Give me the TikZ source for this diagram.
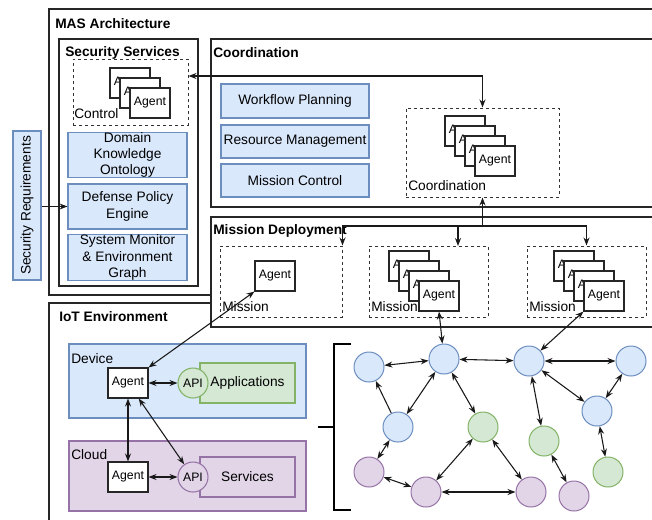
\documentclass[tikz,border=0pt]{standalone}
\usepackage{fontspec}
\setmainfont{Liberation Sans}
\usetikzlibrary{arrows.meta,calc}
\definecolor{bfill}{HTML}{DAE8FC}
\definecolor{bline}{HTML}{6C8EBF}
\definecolor{gfill}{HTML}{D5E8D4}
\definecolor{gline}{HTML}{82B366}
\definecolor{pfill}{HTML}{E1D5E7}
\definecolor{pline}{HTML}{9673A6}
\begin{document}
\begin{tikzpicture}[x=0.75pt,y=-0.75pt,
  font=\fontsize{10.3}{12.3}\selectfont,
  >={Stealth[length=6pt,width=4.5pt]},
  container/.style={draw=black!85, line width=0.9pt, fill=white},
  title/.style={font=\fontsize{10.3}{12.3}\selectfont\bfseries, anchor=west, inner sep=0pt},
  boxlabel/.style={anchor=west, inner sep=0pt},
  bluebox/.style={draw=bline, fill=bfill, line width=0.8pt, align=center, inner sep=0pt},
  greenbox/.style={draw=gline, fill=gfill, line width=0.8pt, align=center, inner sep=0pt},
  purplebox/.style={draw=pline, fill=pfill, line width=0.8pt, align=center, inner sep=0pt},
  dashbox/.style={draw=black!80, dash pattern=on 2.25pt off 2.25pt, line width=0.75pt, inner sep=0pt},
  agentbox/.style={draw=black!85, fill=white, line width=0.8pt, minimum width=30pt,
    minimum height=22.5pt, inner sep=0pt, font=\fontsize{9.2}{11}\selectfont},
  apicircle/.style={circle, minimum size=22.5pt, inner sep=0pt, line width=0.8pt,
    font=\fontsize{9.2}{11}\selectfont},
  gnode/.style={circle, minimum size=22.5pt, inner sep=0pt, line width=0.75pt},
  bnode/.style={gnode, draw=bline, fill=bfill},
  grnode/.style={gnode, draw=gline, fill=gfill},
  pnode/.style={gnode, draw=pline, fill=pfill},
  link/.style={line width=0.8pt, draw=black!90},
]
\useasboundingbox (0,0) rectangle (652,519);
\clip (0,0) rectangle (652,519);

% ---------- containers ----------
\draw[container] (49,9) rectangle (670,295);
\node[title] (mastitle) at (55,24) {MAS Architecture};
\draw[container] (49,303) rectangle (670,540);
\node[title] (iottitle) at (59,317) {IoT Environment};
\draw[container] (211,217) rectangle (670,327);
\node[title] (mdtitle) at (213,231) {Mission Deployment};
\draw[container] (211,39) rectangle (670,207);
\node[title] (cotitle) at (213,53) {Coordination};
\draw[container] (59,39) rectangle (198,286);
\node[title] (sstitle) at (65,53) {Security Services};

% ---------- security requirements ----------
\node[bluebox, rotate=90, minimum width=111.75pt, minimum height=21pt] (secreq)
  at (27,205.5) {Security Requirements};

% ---------- security services ----------
\node[dashbox, minimum width=86.25pt, minimum height=49.5pt] (ctrl) at (130.5,92) {};
\node[boxlabel] (ctrllabel) at (74,114) {Control};
\foreach \i in {0,1,2}
  \node[agentbox] (ctl\i) at (130+10*\i,83+10*\i) {Agent};

\node[bluebox, minimum width=89.25pt, minimum height=33pt] (dko) at (127.5,155)
  {Domain\\Knowledge\\Ontology};
\node[bluebox, minimum width=89.25pt, minimum height=33.75pt] (dpe) at (127.5,206.5)
  {Defense Policy\\Engine};
\node[bluebox, minimum width=89.25pt, minimum height=32.25pt] (smeg) at (127.5,257.5)
  {System Monitor\\\& Environment\\Graph};

% ---------- coordination ----------
\node[bluebox, minimum width=111pt, minimum height=25.5pt] (wfp) at (295,101) {Workflow Planning};
\node[bluebox, minimum width=111pt, minimum height=24.75pt] (rm) at (295,141.5) {Resource Management};
\node[bluebox, minimum width=111pt, minimum height=24.75pt] (mc) at (295,180.5) {Mission Control};

\node[dashbox, minimum width=114.75pt, minimum height=66.75pt] (coord) at (482.5,152.5) {};
\node[boxlabel] (coordlabel) at (408,186) {Coordination};
\foreach \i in {0,1,2,3}
  \node[agentbox] (co\i) at (465+10*\i,131+10*\i) {Agent};

% ---------- mission deployment ----------
\node[dashbox, minimum width=91.5pt, minimum height=53.25pt] (m1) at (281,281.5) {};
\node[boxlabel] (m1label) at (222,307) {Mission};
\node[agentbox] (ma) at (275,276) {Agent};

\node[dashbox, minimum width=89.25pt, minimum height=53.25pt] (m2) at (428.5,281.5) {};
\node[boxlabel] (m2label) at (371,307) {Mission};
\foreach \i in {0,1,2,3}
  \node[agentbox] (mb\i) at (409+10*\i,266+10*\i) {Agent};

\node[dashbox, minimum width=89.25pt, minimum height=53.25pt] (m3) at (586.5,281.5) {};
\node[boxlabel] (m3label) at (529,307) {Mission};
\foreach \i in {0,1,2,3}
  \node[agentbox] (mc\i) at (574+10*\i,266+10*\i) {Agent};

% ---------- IoT: device and cloud ----------
\draw[draw=bline, fill=bfill, line width=0.8pt] (69,344) rectangle (306,418);
\node[boxlabel] (devlabel) at (71,359) {Device};
\node[greenbox, minimum width=71.25pt, minimum height=30pt] (apps) at (247.5,383) {Applications};
\node[apicircle, draw=gline, fill=gfill] (api1) at (193,383) {API};
\node[agentbox] (da) at (128,383) {Agent};

\draw[draw=pline, fill=pfill, line width=0.8pt] (69,441) rectangle (306,511);
\node[boxlabel] (cloudlabel) at (71,455) {Cloud};
\node[purplebox, minimum width=71.25pt, minimum height=30pt] (svc) at (247.5,477) {Services};
\node[apicircle, draw=pline, fill=pfill] (api2) at (193,477) {API};
\node[agentbox] (ca) at (128,477) {Agent};

% ---------- bracket ----------
\draw[line width=1.5pt] (351,344) -- (334,344) -- (334,510) -- (351,510);
\draw[line width=1.5pt] (318,427) -- (334,427);

% ---------- IoT graph ----------
\node[bnode] (b1) at (369,367) {};
\node[bnode] (b2) at (444,359) {};
\node[bnode] (b3) at (529,361) {};
\node[bnode] (b4) at (631,361) {};
\node[bnode] (b5) at (398,427) {};
\node[bnode] (b6) at (597,411) {};
\node[grnode] (g1) at (483,427) {};
\node[grnode] (g2) at (544,441) {};
\node[grnode] (g3) at (608,472) {};
\node[pnode] (p1) at (369,472) {};
\node[pnode] (p2) at (426,492) {};
\node[pnode] (p3) at (531,492) {};
\node[pnode] (p4) at (574,496) {};

% ---------- connectors ----------
\coordinate (yctl) at (0,76);
\coordinate (ybus) at (0,226);
\coordinate (m2in) at (458,246);

\draw[link,<->] (ctrl.east |- yctl) -| (coord.north);
\draw[link,->] (secreq.south |- dpe.west) -- (dpe.west);

\draw[link,<-] (coord.south) -- (coord.south |- ybus);
\draw[link,->] (coord.south |- ybus) -| (m1.north east);
\draw[link,->] (coord.south |- ybus) -| (m2in);
\draw[link,->] (coord.south |- ybus) -| (m3.north);

\draw[link,<->] (ma.south west) -- (da.north east);
\draw[link,<->] (mb3.south) -- (b2);
\draw[link,<->] (mc3.south west) -- (b3);

\draw[link,<->] (da.east) -- (api1.west);
\draw[link,<->] (ca.east) -- (api2.west);
\draw[link,<->] (da.south) -- (ca.north);
\draw[link,<->] (da) -- (api2);

\draw[link,<->] (b1) -- (b2);
\draw[link,->] (b5) -- (b1);
\draw[link,<->] (b2) -- (b5);
\draw[link,<->] (b2) -- (b3);
\draw[link,<->] (b2) -- (g1);
\draw[link,<->] (b3) -- (b4);
\draw[link,<->] (b3) -- (b6);
\draw[link,<->] (b3) -- (g2);
\draw[link,<->] (b4) -- (b6);
\draw[link,<->] (b6) -- (g3);
\draw[link,<->] (b5) -- (p1);
\draw[link,<->] (p1) -- (p2);
\draw[link,<->] (p2) -- (g1);
\draw[link,<->] (g1) -- (p3);
\draw[link,<->] (p2) -- (p3);
\draw[link,<->] (g2) -- (p4);
\end{tikzpicture}
\end{document}
